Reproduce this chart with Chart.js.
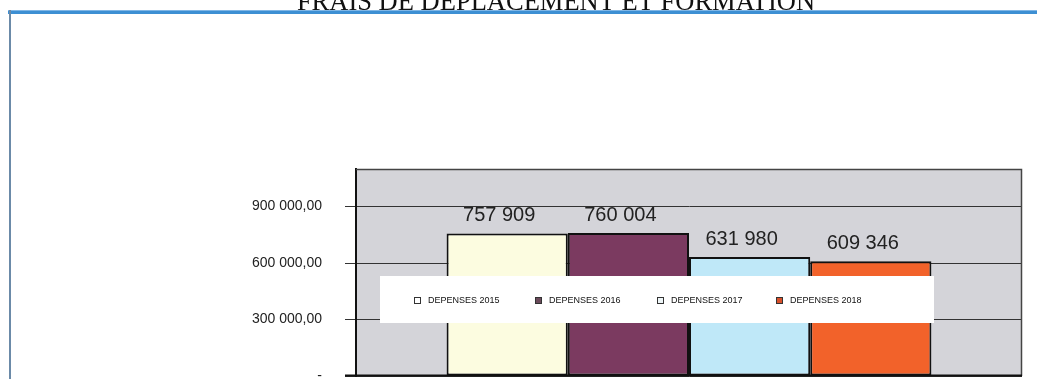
<!DOCTYPE html>
<html>
<head>
<meta charset="utf-8">
<script src="https://cdn.jsdelivr.net/npm/chart.js@4/dist/chart.umd.min.js"></script>
<style>
  html, body { margin: 0; padding: 0; background: #fff; overflow: hidden; }
  #chart { position: absolute; left: 0; top: 0; }
</style>
</head>
<body>
<canvas id="chart" width="1037" height="379"></canvas>
<script>
const title = 'FRAIS DE DEPLACEMENT ET FORMATION';
const categories = [''];
const seriesLabels = ['DEPENSES 2015', 'DEPENSES 2016', 'DEPENSES 2017', 'DEPENSES 2018'];
const seriesValues = [757909, 760004, 631980, 609346];
const seriesColors = ['#fcfce0', '#7b3a60', '#bfe8f8', '#f2622a'];
const legendBoxColors = ['#ffffff', '#6a4a5a', '#eef6f8', '#d8502a'];
const yTicks = [0, 300000, 600000, 900000];
const yMax = 1100000;

function formatTick(v) {
  if (v === 0) return '-';
  const s = Math.round(v).toString().replace(/\B(?=(\d{3})+(?!\d))/g, ' ');
  return s + ',00';
}

function formatLabel(v) {
  return Math.round(v).toString().replace(/\B(?=(\d{3})+(?!\d))/g, ' ');
}

// frame, title and plot background
const backdrop = {
  id: 'backdrop',
  beforeDraw(chart) {
    const ctx = chart.ctx;
    const a = chart.chartArea;
    ctx.save();
    ctx.fillStyle = '#111';
    ctx.font = '26.5px "Liberation Serif", "Times New Roman", serif';
    ctx.textAlign = 'center';
    ctx.textBaseline = 'alphabetic';
    ctx.fillText(title, 556, 10);

    ctx.fillStyle = '#3d8fd3';
    ctx.fillRect(8, 10, 1029, 4);
    ctx.fillStyle = '#7fb6e6';
    ctx.fillRect(8, 10, 1029, 1);
    ctx.fillStyle = '#6b8aa8';
    ctx.fillRect(9, 10, 2, 369);

    ctx.fillStyle = '#d4d4d9';
    ctx.fillRect(a.left, a.top, a.right - a.left, a.bottom - a.top);
    ctx.restore();
  },
  afterDraw(chart) {
    const ctx = chart.ctx;
    const a = chart.chartArea;
    ctx.save();
    ctx.strokeStyle = '#444';
    ctx.lineWidth = 1.5;
    ctx.beginPath();
    ctx.moveTo(a.left, a.top + 0.5);
    ctx.lineTo(a.right - 0.5, a.top + 0.5);
    ctx.lineTo(a.right - 0.5, a.bottom);
    ctx.stroke();
    ctx.strokeStyle = '#111';
    ctx.lineWidth = 2;
    ctx.beginPath();
    ctx.moveTo(a.left - 11, a.bottom - 0.5);
    ctx.lineTo(a.right, a.bottom - 0.5);
    ctx.stroke();
    ctx.restore();
  }
};

// value labels above the bars
const valueLabels = {
  id: 'valueLabels',
  afterDatasetsDraw(chart) {
    const ctx = chart.ctx;
    ctx.save();
    ctx.fillStyle = '#222';
    ctx.font = '20px "Liberation Sans", Arial, sans-serif';
    ctx.textAlign = 'center';
    ctx.textBaseline = 'alphabetic';
    chart.data.datasets.forEach((ds, i) => {
      chart.getDatasetMeta(i).data.forEach((bar, j) => {
        ctx.fillText(formatLabel(ds.data[j]), bar.x - 8, bar.y - 12);
      });
    });
    ctx.restore();
  }
};

// white legend box drawn over the bars
const boxLegend = {
  id: 'boxLegend',
  afterDatasetsDraw(chart) {
    const ctx = chart.ctx;
    ctx.save();
    ctx.fillStyle = '#ffffff';
    ctx.fillRect(380, 276, 554, 47);
    ctx.font = '9px "Liberation Sans", Arial, sans-serif';
    ctx.textBaseline = 'middle';
    ctx.textAlign = 'left';
    const starts = [414, 535, 657, 776];
    chart.data.datasets.forEach((ds, i) => {
      const x = starts[i];
      ctx.fillStyle = legendBoxColors[i];
      ctx.fillRect(x, 297, 7, 7);
      ctx.strokeStyle = '#333';
      ctx.lineWidth = 1;
      ctx.strokeRect(x + 0.5, 297.5, 6, 6);
      ctx.fillStyle = '#111';
      ctx.fillText(ds.label, x + 14, 301);
    });
    ctx.restore();
  }
};

new Chart(document.getElementById('chart'), {
  type: 'bar',
  data: {
    labels: categories,
    datasets: seriesLabels.map((label, i) => ({
      label,
      data: [seriesValues[i]],
      backgroundColor: seriesColors[i],
      borderColor: '#111',
      borderWidth: 2,
      borderSkipped: false,
      categoryPercentage: 0.728,
      barPercentage: 1.0,
    })),
  },
  options: {
    responsive: false,
    maintainAspectRatio: false,
    animation: false,
    devicePixelRatio: 1,
    layout: { padding: { left: 0, top: 169, right: 15, bottom: 3 } },
    plugins: {
      legend: { display: false },
      tooltip: { enabled: false },
      title: { display: false },
    },
    scales: {
      x: { display: false },
      y: {
        min: 0,
        max: yMax,
        afterFit: (scale) => {
          scale.width = 356;
          scale.paddingTop = 0;
          scale.paddingBottom = 0;
        },
        afterBuildTicks: (scale) => {
          scale.ticks = yTicks.map((v) => ({ value: v }));
        },
        ticks: {
          padding: 23,
          color: '#222',
          font: { family: '"Liberation Sans", Arial, sans-serif', size: 14 },
          callback: (v) => formatTick(v),
        },
        grid: { color: '#333', lineWidth: 1, tickLength: 11, drawTicks: true },
        border: { display: true, color: '#111', width: 2 },
      },
    },
  },
  plugins: [backdrop, valueLabels, boxLegend],
});
</script>
</body>
</html>
